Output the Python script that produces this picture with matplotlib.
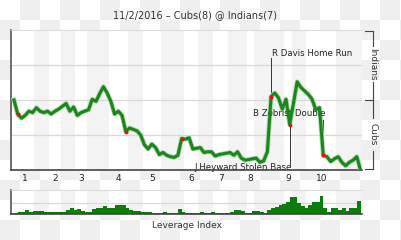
import matplotlib
matplotlib.use("Agg")
import matplotlib.pyplot as plt
import numpy as np
from matplotlib.lines import Line2D

# Indians win expectancy after each plate appearance (index 0 = first pitch)
indians_we = [
    0.50, 0.40, 0.37, 0.39, 0.42, 0.41, 0.445, 0.42, 0.41, 0.42,
    0.40, 0.42, 0.435, 0.455, 0.475, 0.42, 0.45, 0.39, 0.41, 0.42,
    0.43, 0.505, 0.49, 0.545, 0.595, 0.55, 0.49, 0.40, 0.42, 0.39,
    0.275, 0.30, 0.29, 0.28, 0.25, 0.18, 0.15, 0.185, 0.16, 0.11,
    0.125, 0.105, 0.095, 0.09, 0.105, 0.225, 0.22, 0.23, 0.15, 0.155,
    0.16, 0.125, 0.13, 0.13, 0.10, 0.11, 0.115, 0.12, 0.125, 0.105,
    0.13, 0.085, 0.07, 0.075, 0.08, 0.085, 0.055, 0.065, 0.13, 0.525,
    0.55, 0.515, 0.435, 0.505, 0.325, 0.475, 0.63, 0.59, 0.565, 0.54,
    0.505, 0.43, 0.445, 0.105, 0.095, 0.06, 0.08, 0.095, 0.055, 0.03,
    0.055, 0.07, 0.095, 0.0,
]
key_plays = [1, 30, 45, 69, 74, 83]

# leverage index of plate appearances 1..93
leverage = [
    0.1, 0.3, 0.3, 0.7, 0.4, 0.5, 0.5, 0.5, 0.3, 0.3,
    0.4, 0.4, 0.3, 0.3, 0.8, 1.15, 0.7, 0.9, 0.5, 0.3,
    0.3, 0.9, 1.15, 1.05, 1.45, 1.15, 1.05, 1.6, 1.6, 1.6,
    1.05, 0.7, 0.5, 0.5, 0.3, 0.4, 0.4, 0.2, 0.2, 0.2,
    0.4, 0.2, 0.2, 0.2, 1.0, 0.35, 0.2, 0.2, 0.2, 0.2,
    0.3, 0.2, 0.2, 0.3, 0.2, 0.2, 0.1, 0.1, 0.4, 0.7,
    0.65, 0.5, 0.1, 0.1, 0.5, 0.5, 0.3, 0.1, 0.7, 1.1,
    1.3, 1.6, 1.8, 2.25, 3.1, 3.1, 2.0, 1.5, 1.1, 1.7,
    2.25, 2.25, 3.25, 1.1, 0.4, 1.1, 1.1, 0.7, 1.1, 0.5,
    1.1, 1.1, 2.45,
]

# plate appearances (first, last) of each bottom half inning
bottom_halves = [(6, 9), (13, 16), (20, 25), (31, 34), (40, 45),
                 (50, 53), (58, 62), (65, 72), (75, 78), (87, 93)]
innings = ["1", "2", "3", "4", "5", "6", "7", "8", "9", "10"]

notes = [
    (69, "R Davis Home Run", 0.80, "up"),
    (83, "B Zobrist Double", 0.36, "up"),
    (74, "J Heyward Stolen Base", 0.03, "down"),
]

W, H = 401, 240


def fx(px):
    return px / W


def fy(py):
    return 1 - py / H


fig = plt.figure(figsize=(W / 100, H / 100), dpi=100)
fig.patch.set_facecolor("white")

# transparent-looking checkerboard backdrop
yy, xx = np.mgrid[0:H, 0:W]
board = np.where(((xx // 20) + (yy // 20)) % 2 == 1, 0.94, 1.0)
fig.figimage(np.dstack([board] * 3), xo=0, yo=0, origin="upper", zorder=-1)

n = len(indians_we) - 1
xlim = (-0.8, n + 0.4)

# top half of each inning sits between the bottom halves
ticks = []
prev_end = 0
for start, end in bottom_halves:
    ticks.append((prev_end + 1 + start - 1) / 2)
    prev_end = end

ax = fig.add_axes([fx(11), fy(170), fx(362) - fx(11), fy(30) - fy(170)])
ax.set_facecolor("white")
for start, end in bottom_halves:
    ax.axvspan(start - 0.5, end + 0.5, color="#f3f3f3", lw=0, zorder=0)
for g in [0.25, 0.5, 0.75]:
    ax.axhline(g, color="#d8d8d8", lw=0.9, zorder=1)
x = np.arange(len(indians_we))
ax.plot(x, indians_we, color="#a6d6a6", lw=3.4, solid_joinstyle="round", zorder=3)
ax.plot(x, indians_we, color="#1c851c", lw=2.2, solid_joinstyle="round", zorder=4)
ax.plot(key_plays, [indians_we[i] for i in key_plays], "o", color="#e81010",
        ms=2.8, mec="none", zorder=5)
for i, label, ty, way in notes:
    ax.plot([i, i], [indians_we[i], ty], color="#333333", lw=0.7, zorder=2)
    if label.startswith("R "):
        ax.text(i + 0.2, ty, label, ha="left", va="bottom", fontsize=6.2, color="#222222")
    elif way == "up":
        ax.text(i + 0.6, ty + 0.045, label, ha="right", va="center", fontsize=6.2, color="#222222")
    else:
        ax.text(i + 0.5, ty - 0.015, label, ha="right", va="center", fontsize=6.2,
                color="#222222", zorder=1)
ax.set_xlim(*xlim)
ax.set_ylim(0, 1)
ax.set_yticks([])
ax.set_xticks(ticks)
ax.set_xticklabels(innings, fontsize=6.5, color="#222222")
ax.tick_params(axis="x", length=0, pad=3)
ax.spines["right"].set_visible(False)
ax.spines["top"].set_color("#dcdcdc")
ax.spines["left"].set_color("#555555")
ax.spines["bottom"].set_color("#444444")
ax.spines["left"].set_linewidth(1.2)
ax.spines["bottom"].set_linewidth(1.2)

# leverage strip
lx = fig.add_axes([fx(11), fy(214), fx(362) - fx(11), fy(190) - fy(214)])
lx.set_facecolor("white")
for start, end in bottom_halves:
    lx.axvspan(start - 0.5, end + 0.5, color="#f3f3f3", lw=0, zorder=0)
lx.axhline(2.0, color="#d8d8d8", lw=0.9, zorder=1)
lx.bar(np.arange(1, len(leverage) + 1) - 1, leverage, width=1.0, align="edge",
       color="#0b7d0b", lw=0, zorder=2)
lx.set_xlim(*xlim)
lx.set_ylim(0, 4.4)
lx.set_xticks([])
lx.set_yticks([])
lx.spines["right"].set_visible(False)
lx.spines["top"].set_color("#dcdcdc")
lx.spines["left"].set_color("#555555")
lx.spines["bottom"].set_color("#444444")
lx.spines["left"].set_linewidth(1.2)
lx.spines["bottom"].set_linewidth(1.2)
fig.text(fx(186.5), fy(225), "Leverage Index", ha="center", va="center",
         fontsize=6.5, color="#333333")

fig.text(fx(195), fy(15), "11/2/2016 \u2013 Cubs(8) @ Indians(7)", ha="center",
         va="center", fontsize=7, color="#333333")

# team bracket on the right
bc = "#444444"
bx = fx(373)
for y0, y1 in [(31, 46), (82, 100), (100, 118), (151, 169)]:
    fig.add_artist(Line2D([bx, bx], [fy(y0), fy(y1)], transform=fig.transFigure,
                          color=bc, lw=0.8))
for yt in [31, 100, 169]:
    fig.add_artist(Line2D([fx(365), bx], [fy(yt), fy(yt)], transform=fig.transFigure,
                          color=bc, lw=0.8))
fig.text(bx, fy(64), "Indians", rotation=-90, ha="center", va="center",
         fontsize=6.5, color="#333333")
fig.text(bx, fy(134.5), "Cubs", rotation=-90, ha="center", va="center",
         fontsize=6.5, color="#333333")

fig.savefig("out.png", dpi=100)
